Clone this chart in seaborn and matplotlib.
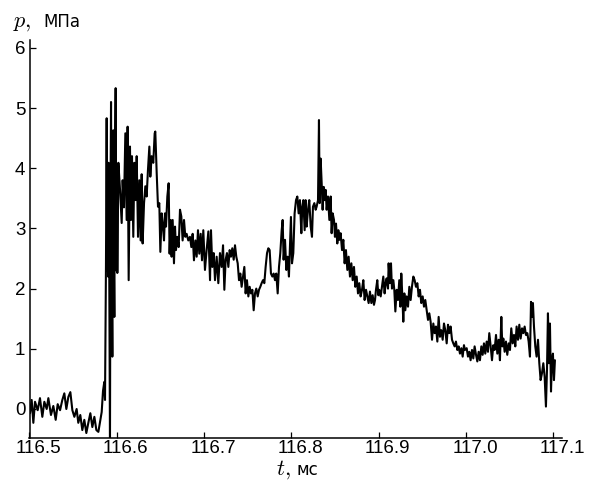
import matplotlib
matplotlib.use("Agg")
import matplotlib.pyplot as plt
import matplotlib.transforms as mtransforms
import pandas as pd
import seaborn as sns

# ---- data (t in ms, p in MPa) ----
# baseline before the shock
t_base = [116.5006, 116.5025, 116.5044, 116.5063, 116.5094, 116.5120, 116.5147, 116.5170,
          116.5197, 116.5216, 116.5246, 116.5273, 116.5300, 116.5323, 116.5350, 116.5376,
          116.5399, 116.5422, 116.5445, 116.5468, 116.5491, 116.5514, 116.5540, 116.5559,
          116.5582, 116.5605, 116.5628, 116.5651, 116.5674, 116.5697, 116.5720, 116.5743,
          116.5766, 116.5789, 116.5812, 116.5827, 116.5842, 116.5857, 116.5865]
p_base = [-0.07, 0.15, -0.23, 0.12, -0.02, 0.18, -0.13, 0.12, 0.00, 0.18, -0.10, 0.05,
          -0.18, 0.08, -0.02, 0.15, 0.26, 0.00, 0.20, 0.28, -0.02, -0.13, 0.00, -0.23,
          -0.10, -0.35, -0.18, -0.40, -0.23, -0.07, -0.30, -0.13, -0.35, -0.38, -0.18,
          -0.05, 0.30, 0.45, 0.15]

# shock front burst
t_front = [116.5876, 116.5884, 116.5890, 116.5895, 116.5900, 116.5905, 116.5913, 116.5922,
           116.5928, 116.5934, 116.5941, 116.5949, 116.5955, 116.5960, 116.5966, 116.5972,
           116.5978, 116.5987, 116.5995, 116.6000]
p_front = [2.40, 4.83, 2.30, 3.90, 2.20, 4.09, 2.50, -0.60, 3.60, 5.10, 2.30, 0.87, 3.80,
           4.63, 2.40, 1.53, 3.90, 5.33, 2.30, 4.00]

# first plateau and decay
t_plat = [116.6006, 116.6018, 116.6037, 116.6056, 116.6067, 116.6082, 116.6098, 116.6113,
          116.6124, 116.6136, 116.6151, 116.6163, 116.6174, 116.6189, 116.6201, 116.6216,
          116.6228, 116.6243, 116.6258, 116.6273, 116.6285, 116.6296, 116.6312, 116.6327,
          116.6342, 116.6357, 116.6373, 116.6384, 116.6399, 116.6418, 116.6434, 116.6441,
          116.6457, 116.6472, 116.6487, 116.6499, 116.6514, 116.6525, 116.6541, 116.6552,
          116.6564, 116.6579, 116.6594, 116.6605, 116.6617, 116.6628, 116.6640, 116.6655,
          116.6667, 116.6678, 116.6693, 116.6709, 116.6724, 116.6739, 116.6754, 116.6770,
          116.6785, 116.6800, 116.6819, 116.6838, 116.6854, 116.6869, 116.6884, 116.6900,
          116.6915, 116.6930, 116.6945, 116.6961, 116.6976, 116.6991, 116.7010]
p_plat = [2.26, 4.09, 3.64, 3.09, 3.80, 3.35, 4.58, 3.14, 4.69, 2.14, 4.36, 3.14, 4.20,
          2.86, 4.09, 3.47, 4.20, 2.86, 3.80, 2.80, 3.90, 2.75, 3.42, 3.70, 3.53, 3.97,
          4.36, 3.86, 4.20, 4.09, 4.58, 4.61, 3.92, 3.36, 3.42, 2.61, 3.25, 3.09, 2.80,
          3.25, 3.03, 3.53, 3.75, 2.58, 3.14, 2.53, 3.14, 2.42, 3.03, 2.64, 2.86, 2.69,
          3.31, 3.20, 2.80, 3.14, 2.86, 2.91, 2.80, 2.86, 2.69, 2.91, 2.47, 2.80, 2.53,
          2.97, 2.58, 2.91, 2.47, 2.97, 2.31]

# trough before the second rise
t_trough = [116.7029, 116.7049, 116.7068, 116.7079, 116.7094, 116.7110, 116.7125, 116.7144,
            116.7163, 116.7182, 116.7201, 116.7217, 116.7232, 116.7247, 116.7262, 116.7278,
            116.7293, 116.7308, 116.7323, 116.7339, 116.7354, 116.7369, 116.7385, 116.7400,
            116.7415, 116.7430, 116.7446, 116.7461, 116.7476, 116.7491, 116.7507, 116.7522,
            116.7537, 116.7553, 116.7568, 116.7583, 116.7598, 116.7614, 116.7629, 116.7644,
            116.7659, 116.7675, 116.7690, 116.7705, 116.7721, 116.7736, 116.7751, 116.7766,
            116.7782, 116.7797, 116.7812, 116.7827, 116.7843, 116.7858, 116.7873, 116.7889,
            116.7900, 116.7911, 116.7927, 116.7942, 116.7957, 116.7972, 116.7984]
p_trough = [2.64, 2.95, 2.14, 2.97, 2.36, 2.59, 2.14, 2.53, 2.09, 2.59, 2.36, 2.72, 1.98,
            2.48, 2.59, 2.36, 2.64, 2.53, 2.67, 2.48, 2.72, 2.53, 2.42, 2.14, 2.25, 2.03,
            2.20, 2.36, 1.92, 2.14, 1.87, 2.03, 1.92, 1.98, 1.64, 1.92, 2.00, 1.87, 1.98,
            2.03, 2.09, 2.14, 2.09, 2.36, 2.59, 2.67, 2.64, 2.25, 2.20, 2.25, 2.14, 2.25,
            1.92, 2.36, 2.59, 2.97, 3.14, 2.48, 2.81, 2.31, 2.53, 2.20, 2.70]

# second peak and its decay
t_peak2 = [116.7995, 116.8007, 116.8022, 116.8037, 116.8053, 116.8068, 116.8083, 116.8098,
           116.8114, 116.8125, 116.8137, 116.8152, 116.8163, 116.8175, 116.8190, 116.8205,
           116.8221, 116.8236, 116.8247, 116.8263, 116.8278, 116.8289, 116.8305, 116.8316,
           116.8324, 116.8335, 116.8347, 116.8358, 116.8370, 116.8381, 116.8393, 116.8404,
           116.8419, 116.8435, 116.8450, 116.8461, 116.8473, 116.8488, 116.8499, 116.8511,
           116.8526, 116.8538, 116.8549, 116.8564, 116.8580, 116.8595, 116.8610, 116.8625,
           116.8641, 116.8656, 116.8671, 116.8687, 116.8702, 116.8717, 116.8732, 116.8748,
           116.8763, 116.8778, 116.8793, 116.8809, 116.8824, 116.8839, 116.8855, 116.8870,
           116.8885, 116.8900, 116.8916, 116.8931, 116.8946, 116.8958]
p_peak2 = [3.19, 2.42, 2.59, 3.25, 3.47, 3.53, 3.25, 3.47, 2.92, 3.36, 3.47, 2.97, 3.47,
           3.03, 3.31, 3.47, 3.03, 2.86, 3.36, 3.42, 3.31, 3.36, 3.47, 4.80, 3.42, 4.16,
           3.75, 3.31, 3.69, 3.47, 3.64, 3.31, 3.53, 3.14, 3.53, 2.92, 3.25, 3.14, 2.86,
           3.08, 2.75, 2.97, 2.81, 2.92, 2.64, 2.81, 2.42, 2.64, 2.31, 2.53, 2.20, 2.42,
           2.14, 2.36, 2.03, 2.20, 1.92, 2.09, 1.87, 1.98, 2.14, 1.81, 1.98, 1.87, 1.76,
           1.95, 1.76, 1.89, 1.73, 1.81]

# third hump and decay
t_hump = [116.8969, 116.8984, 116.8996, 116.9007, 116.9023, 116.9038, 116.9053, 116.9068,
          116.9080, 116.9091, 116.9107, 116.9114, 116.9129, 116.9141, 116.9152, 116.9168,
          116.9179, 116.9191, 116.9206, 116.9221, 116.9236, 116.9248, 116.9259, 116.9271,
          116.9282, 116.9294, 116.9305, 116.9320, 116.9336, 116.9351, 116.9366, 116.9381,
          116.9397, 116.9412, 116.9427, 116.9443, 116.9458, 116.9473, 116.9488, 116.9504,
          116.9519, 116.9534, 116.9550, 116.9565, 116.9580, 116.9595, 116.9611, 116.9626,
          116.9641, 116.9656, 116.9672, 116.9687, 116.9702, 116.9717, 116.9733, 116.9748,
          116.9763, 116.9779, 116.9794, 116.9809, 116.9824, 116.9840, 116.9855, 116.9870,
          116.9885, 116.9901, 116.9916, 116.9931, 116.9947, 116.9962, 116.9977, 116.9988]
p_hump = [1.98, 2.14, 1.89, 1.98, 1.87, 2.03, 2.20, 1.92, 2.09, 2.17, 2.00, 2.42, 2.09,
          2.42, 2.00, 2.14, 1.98, 1.62, 1.98, 1.81, 2.14, 1.70, 2.25, 1.87, 1.45, 1.92,
          1.64, 1.87, 1.70, 2.03, 1.81, 2.03, 2.20, 2.14, 2.03, 2.09, 1.87, 1.98, 1.76,
          1.87, 1.70, 1.81, 1.64, 1.48, 1.59, 1.45, 1.15, 1.42, 1.26, 1.37, 1.12, 1.53,
          1.20, 1.31, 1.15, 1.42, 1.31, 1.09, 1.40, 1.26, 1.37, 1.15, 1.09, 1.04, 1.12,
          0.98, 1.04, 0.92, 1.01, 0.87, 1.06, 0.98]

# tail
t_tail = [117.0008, 117.0023, 117.0038, 117.0053, 117.0069, 117.0084, 117.0099, 117.0115,
          117.0130, 117.0145, 117.0160, 117.0176, 117.0191, 117.0206, 117.0221, 117.0237,
          117.0252, 117.0267, 117.0283, 117.0298, 117.0313, 117.0328, 117.0344, 117.0359,
          117.0374, 117.0389, 117.0405, 117.0416, 117.0428, 117.0443, 117.0458, 117.0473,
          117.0489, 117.0504, 117.0519, 117.0535, 117.0550, 117.0565, 117.0580, 117.0596,
          117.0611, 117.0626, 117.0642, 117.0657, 117.0672, 117.0687, 117.0703, 117.0718,
          117.0733, 117.0745, 117.0756, 117.0767, 117.0779, 117.0794, 117.0809, 117.0825,
          117.0840, 117.0855, 117.0870, 117.0886, 117.0901, 117.0916, 117.0928, 117.0939,
          117.0951, 117.0962, 117.0974, 117.0985, 117.0996, 117.1008, 117.1019]
p_tail = [1.01, 0.87, 0.95, 0.81, 0.98, 0.84, 1.04, 0.90, 0.79, 0.95, 0.81, 1.04, 0.90,
          1.09, 0.92, 1.12, 0.95, 1.26, 1.04, 0.81, 1.06, 0.98, 1.23, 0.92, 1.15, 0.81,
          1.53, 1.04, 1.17, 0.95, 1.12, 0.90, 1.09, 0.98, 1.34, 1.09, 1.23, 1.04, 1.37,
          1.15, 1.40, 1.17, 1.34, 1.26, 1.37, 1.23, 1.26, 1.12, 0.87, 1.78, 1.53, 1.76,
          1.37, 1.04, 0.87, 1.15, 0.76, 0.48, 0.59, 0.76, 0.54, 0.04, 0.65, 1.59, 0.76,
          1.42, 0.29, 0.81, 0.92, 0.48, 0.81]

x_ticks = [116.5, 116.6, 116.7, 116.8, 116.9, 117.0, 117.1]
x_tick_labels = ["116.5", "116.6", "116.7", "116.8", "116.9", "117.0", "117.1"]
y_ticks = [0, 1, 2, 3, 4, 5, 6]
y_tick_labels = ["0", "1", "2", "3", "4", "5", "6"]

segments = [(t_base, p_base), (t_front, p_front), (t_plat, p_plat), (t_trough, p_trough),
            (t_peak2, p_peak2), (t_hump, p_hump), (t_tail, p_tail)]
t_all, p_all = [], []
for tt, pp in segments:
    assert len(tt) == len(pp), (len(tt), len(pp))
    t_all += tt
    p_all += pp
df = pd.DataFrame({"t": t_all, "p": p_all})

# ---- style ----
sns.set_theme(style="ticks")
plt.rcParams["font.family"] = ["Liberation Sans", "DejaVu Sans"]
plt.rcParams["mathtext.fontset"] = "cm"

W, H = 590, 482
fig = plt.figure(figsize=(W / 100, H / 100), dpi=100)
ax = fig.add_axes([29.5 / W, (H - 437.7) / H, (562 - 29.5) / W, (437.7 - 40) / H])

sns.lineplot(data=df, x="t", y="p", ax=ax, color="black", linewidth=1.5,
             estimator=None, sort=False)

ax.set_xlim(116.5, 117.11)
ax.set_ylim(-0.477, 6.13)
ax.set_xticks(x_ticks)
ax.set_xticklabels(x_tick_labels)
ax.set_yticks(y_ticks)
ax.set_yticklabels(y_tick_labels)
ax.set_xlabel("")
ax.set_ylabel("")
ax.tick_params(direction="in", length=4.3, width=0.9, colors="black", labelsize=13.5)
ax.tick_params(axis="x", pad=1.5)
ax.tick_params(axis="y", pad=3)
for s in ["top", "right"]:
    ax.spines[s].set_visible(False)
for s in ["left", "bottom"]:
    ax.spines[s].set_linewidth(1.1)
    ax.spines[s].set_color("black")

offset = mtransforms.ScaledTranslation(9 / 100, 0, fig.dpi_scale_trans)
for lab in ax.get_xticklabels():
    lab.set_transform(lab.get_transform() + offset)

fig.text(13 / W, 1 - 27 / H, r"$p,$", fontsize=16, va="baseline", color="black")
fig.text(43 / W, 1 - 27 / H, "МПа", fontsize=12, va="baseline", color="black",
         family=["DejaVu Sans"])
fig.text(276 / W, 1 - 475 / H, r"$t,$", fontsize=16, va="baseline", color="black")
fig.text(296 / W, 1 - 475 / H, "мс", fontsize=12, va="baseline", color="black",
         family=["DejaVu Sans"])

fig.savefig("out.png", dpi=100)
